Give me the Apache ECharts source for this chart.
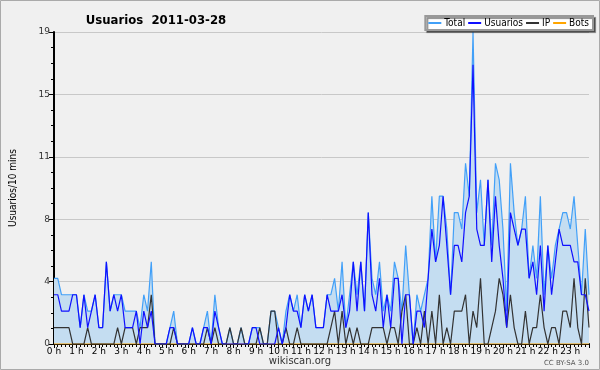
<!DOCTYPE html>
<html><head><meta charset="utf-8">
<script src="https://cdn.jsdelivr.net/npm/echarts@6/dist/echarts.min.js"></script>
<style>html,body{margin:0;padding:0;background:#f0f0f0}#c{width:600px;height:370px}</style>
</head><body><div id="c"></div>
<script>
const hourLabels = ['0 h','1 h','2 h','3 h','4 h','5 h','6 h','7 h','8 h','9 h','10 h','11 h','12 h','13 h','14 h','15 h','16 h','17 h','18 h','19 h','20 h','21 h','22 h','23 h'];
const total = [
4,4,3,3,3,3, 3,1,3,2,2,3, 1,1,5,2,3,3, 3,2,2,2,2,1,
3,2,5,0,0,0, 0,1,2,0,0,0, 0,1,0,0,1,2, 0,3,1,0,0,1,
0,0,1,0,0,1, 1,1,0,0,2,2, 1,0,2,3,2,3, 1,3,2,3,1,1,
1,3,3,4,2,5, 1,3,5,3,5,2, 8,4,3,5,2,3, 2,5,4,2,6,3,
0,3,2,3,4,9, 5,9,9,7,3,8, 8,7,11,9,19,8, 10,6,10,6,11,10,
7,2,11,8,6,7, 9,4,6,4,9,3, 6,4,6,7,8,8, 7,9,6,3,7,3
];
const usuarios = [
3,3,2,2,2,3, 3,1,3,1,2,3, 1,1,5,2,3,2, 3,1,1,1,2,0,
2,1,2,0,0,0, 0,1,1,0,0,0, 0,1,0,0,1,1, 0,2,1,0,0,0,
0,0,0,0,0,1, 1,0,0,0,0,0, 1,0,1,3,2,2, 1,3,2,3,1,1,
1,3,2,2,2,3, 1,2,5,2,5,2, 8,3,2,4,1,3, 1,4,4,0,3,3,
0,2,2,1,4,7, 5,6,9,6,3,6, 6,5,8,9,17,7, 6,6,10,5,9,6,
4,1,8,7,6,7, 7,4,5,3,6,2, 6,3,5,7,6,6, 6,5,5,3,3,2
];
const ip = [
1,1,1,1,1,0, 0,0,0,1,0,0, 0,0,0,0,0,1, 0,1,1,1,0,1,
1,1,3,0,0,0, 0,0,1,0,0,0, 0,0,0,0,0,1, 0,1,0,0,0,1,
0,0,1,0,0,0, 0,1,0,0,2,2, 0,0,1,0,0,1, 0,0,0,0,0,0,
0,0,1,2,0,2, 0,1,0,1,0,0, 0,1,1,1,1,0, 1,1,0,2,3,0,
0,1,0,2,0,2, 0,3,0,1,0,2, 2,2,3,0,2,1, 4,0,0,1,2,4,
3,1,3,1,0,0, 2,0,1,1,3,1, 0,1,1,0,2,2, 1,4,1,0,4,1
];
const bots = [
0,0,0,0,0,0, 0,0,0,0,0,0, 0,0,0,0,0,0, 0,0,0,0,0,0,
0,0,0,0,0,0, 0,0,0,0,0,0, 0,0,0,0,0,0, 0,0,0,0,0,0,
0,0,0,0,0,0, 0,0,0,0,0,0, 0,0,0,0,0,0, 0,0,0,0,0,0,
0,0,0,0,0,0, 0,0,0,0,0,0, 0,0,0,0,0,0, 0,0,0,0,0,0,
0,0,0,0,0,0, 0,0,0,0,0,0, 0,0,0,0,0,0, 0,0,0,0,0,0,
0,0,0,0,0,0, 0,0,0,0,0,0, 0,0,0,0,0,0, 0,0,0,0,0,0
];

const pts = a => a.map((v, i) => [i, v]);
const chart = echarts.init(document.getElementById('c'), null, {renderer: 'canvas'});
const F = "'DejaVu Sans'";
const FC = "'DejaVu Sans Condensed', 'DejaVu Sans'";
chart.setOption({
  backgroundColor: '#f0f0f0',
  animation: false,
  title: {text: 'Usuarios  2011-03-28', left: 151, top: 9, textAlign: 'center',
    textStyle: {fontFamily: FC, fontSize: 13, fontWeight: 'bold', color: '#000'}},
  legend: {
    right: 7, top: 16, orient: 'horizontal', itemGap: 3, itemWidth: 13, itemHeight: 2,
    padding: [2, 4, 2, 3], backgroundColor: '#fff', borderColor: '#999', borderWidth: 2,
    shadowColor: 'rgba(0,0,0,0.45)', shadowOffsetX: 2, shadowOffsetY: 2, shadowBlur: 1,
    textStyle: {fontFamily: FC, fontSize: 10, color: '#000', padding: [0, 0, 0, -2]},
    data: [
      {name: 'Total', icon: 'rect'},
      {name: 'Usuarios', icon: 'rect'},
      {name: 'IP', icon: 'rect'},
      {name: 'Bots', icon: 'rect'}
    ]
  },
  graphic: [
    {type: 'text', left: 'center', top: 356, style: {text: 'wikiscan.org', fontFamily: F, fontSize: 10, fill: '#333'}},
    {type: 'text', right: 11, top: 360, style: {text: 'CC BY-SA 3.0', fontFamily: F, fontSize: 7, fill: '#555'}},
    {type: 'rect', shape: {x: 0.5, y: 0.5, width: 599, height: 369}, style: {fill: 'none', stroke: '#aaa', lineWidth: 1}, silent: true}
  ],
  grid: {left: 46, right: 11, top: 32, bottom: 26},
  xAxis: {
    type: 'value', min: 0, max: 143, interval: 6,
    axisLine: {lineStyle: {color: '#000', width: 2}},
    axisTick: {length: 4, lineStyle: {color: '#000'}},
    minorTick: {show: true, splitNumber: 6, length: 3, lineStyle: {color: '#000'}},
    splitLine: {show: false},
    axisLabel: {fontFamily: F, fontSize: 9, color: '#000', margin: 3,
      formatter: v => (v % 6 === 0 ? hourLabels[v / 6] : '')}
  },
  yAxis: {
    type: 'value', min: 0, max: 19, interval: 3.8,
    name: 'Usuarios/10 mins', nameLocation: 'middle', nameGap: 36, nameRotate: 90,
    nameTextStyle: {fontFamily: FC, fontSize: 10, color: '#000'},
    axisLine: {show: true, lineStyle: {color: '#000', width: 2}},
    axisTick: {show: true, length: 5, lineStyle: {color: '#000'}},
    minorTick: {show: true, splitNumber: 4, length: 3, lineStyle: {color: '#000'}},
    splitLine: {show: true, lineStyle: {color: '#c8c8c8', width: 1}},
    axisLabel: {fontFamily: F, fontSize: 9, color: '#333', margin: 4,
      formatter: v => String(Math.round(v))}
  },
  series: [
    {name: 'Total', type: 'line', data: pts(total), symbol: 'none', z: 1,
      lineStyle: {color: '#42a0f8', width: 1.2}, itemStyle: {color: '#42a0f8'},
      areaStyle: {color: '#c4ddf1', opacity: 1}},
    {name: 'Bots', type: 'line', data: pts(bots), symbol: 'none', z: 2,
      lineStyle: {color: '#ffa500', width: 1.2}, itemStyle: {color: '#ffa500'}},
    {name: 'IP', type: 'line', data: pts(ip), symbol: 'none', z: 3,
      lineStyle: {color: '#333333', width: 1.2}, itemStyle: {color: '#333333'}},
    {name: 'Usuarios', type: 'line', data: pts(usuarios), symbol: 'none', z: 4,
      lineStyle: {color: '#1010ff', width: 1.2}, itemStyle: {color: '#1010ff'}}
  ]
});
</script></body></html>
